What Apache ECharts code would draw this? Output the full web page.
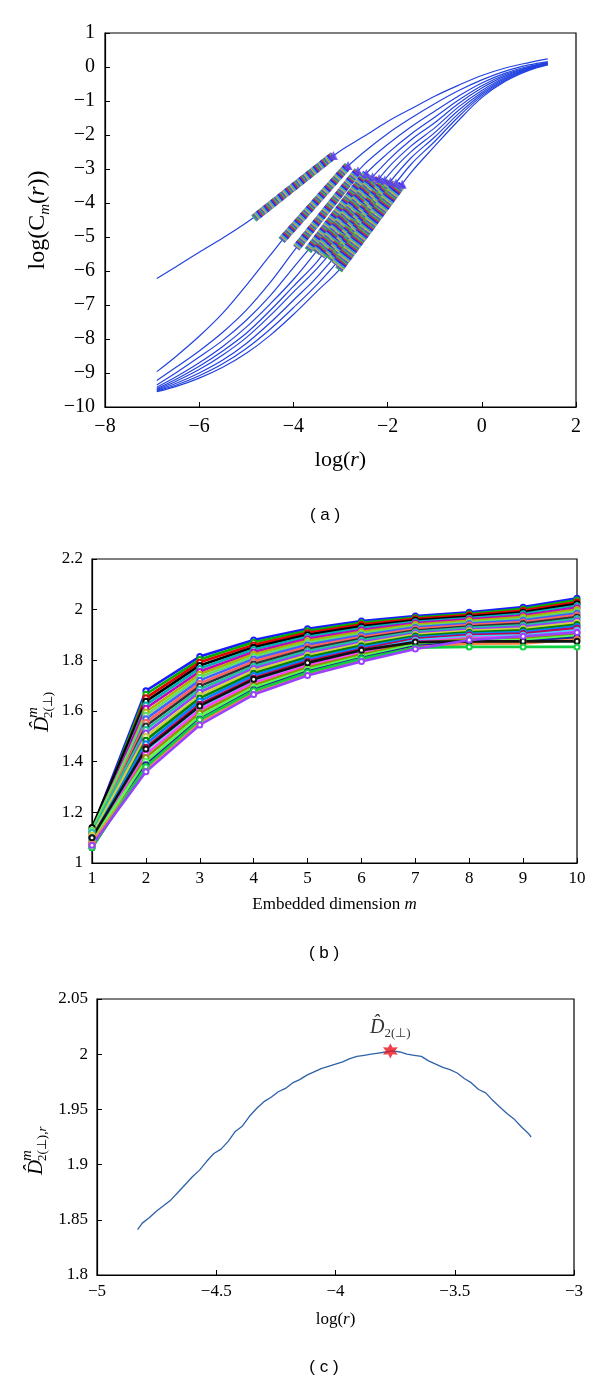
<!DOCTYPE html>
<html><head><meta charset="utf-8">
<script src="https://cdn.jsdelivr.net/npm/echarts@6/dist/echarts.min.js"></script>
<style>html,body{margin:0;padding:0;background:#fff}#c{width:600px;height:1382px}</style>
</head><body><div id="c"></div>
<script>
// ---------- Panel (a): log(C_m(r)) vs log(r), m = 1..10 ----------
const logR = [-6.9,-6.5,-6,-5.5,-5,-4.5,-4,-3.5,-3,-2.5,-2,-1.5,-1,-0.5,0,0.5,1,1.4];
const logC_m1  = [-6.22,-5.88,-5.45,-5.03,-4.58,-4.08,-3.52,-2.98,-2.46,-2.04,-1.60,-1.23,-0.86,-0.54,-0.25,-0.03,0.13,0.24];
const logC_m2  = [-8.96,-8.52,-7.92,-7.24,-6.42,-5.55,-4.69,-3.90,-3.12,-2.50,-1.96,-1.50,-1.08,-0.70,-0.38,-0.12,0.06,0.16];
const logC_m3  = [-9.22,-8.84,-8.35,-7.80,-7.15,-6.35,-5.43,-4.55,-3.67,-2.87,-2.28,-1.76,-1.30,-0.86,-0.47,-0.18,0.02,0.14];
const logC_m4  = [-9.35,-9.00,-8.53,-8.04,-7.45,-6.74,-5.90,-5.06,-4.13,-3.20,-2.54,-1.97,-1.48,-0.98,-0.55,-0.22,0.00,0.12];
const logC_m5  = [-9.42,-9.12,-8.70,-8.22,-7.65,-6.98,-6.25,-5.40,-4.46,-3.53,-2.76,-2.14,-1.64,-1.08,-0.62,-0.26,-0.02,0.11];
const logC_m6  = [-9.46,-9.19,-8.80,-8.35,-7.83,-7.17,-6.45,-5.73,-4.80,-3.86,-2.98,-2.32,-1.79,-1.18,-0.69,-0.30,-0.04,0.10];
const logC_m7  = [-9.49,-9.25,-8.90,-8.47,-7.96,-7.32,-6.62,-5.93,-5.10,-4.15,-3.21,-2.49,-1.93,-1.28,-0.75,-0.33,-0.05,0.09];
const logC_m8  = [-9.51,-9.31,-9.00,-8.62,-8.13,-7.53,-6.86,-6.18,-5.37,-4.42,-3.47,-2.67,-2.06,-1.38,-0.80,-0.36,-0.06,0.08];
const logC_m9  = [-9.53,-9.36,-9.08,-8.73,-8.28,-7.72,-7.08,-6.40,-5.62,-4.67,-3.73,-2.86,-2.19,-1.47,-0.85,-0.39,-0.08,0.07];
const logC_m10 = [-9.55,-9.40,-9.15,-8.83,-8.42,-7.90,-7.28,-6.60,-5.92,-4.96,-4.02,-3.10,-2.33,-1.58,-0.90,-0.42,-0.10,0.06];
// scaling-region (marked) segments of each curve
const bandStartX = [-4.84,-4.25,-3.94,-3.69,-3.53,-3.41,-3.29,-3.20,-3.12,-3.04];
const bandStartY = [-4.45,-5.10,-5.32,-5.40,-5.45,-5.56,-5.60,-5.70,-5.81,-5.97];
const bandEndX   = [-3.15,-2.84,-2.63,-2.45,-2.32,-2.18,-2.06,-1.94,-1.82,-1.69];
const bandEndY   = [-2.60,-2.90,-3.05,-3.13,-3.23,-3.28,-3.32,-3.37,-3.41,-3.45];

// ---------- Panel (b): D2 estimates vs embedded dimension ----------
const mDims = [1,2,3,4,5,6,7,8,9,10];
const d2_01 = [1.13,1.680,1.815,1.880,1.925,1.955,1.975,1.990,2.010,2.045];
const d2_02 = [1.12,1.666,1.803,1.871,1.917,1.948,1.969,1.984,2.003,2.038];
const d2_03 = [1.11,1.652,1.792,1.861,1.909,1.941,1.964,1.979,1.997,2.030];
const d2_04 = [1.14,1.638,1.780,1.852,1.901,1.934,1.958,1.973,1.990,2.023];
const d2_05 = [1.10,1.624,1.768,1.843,1.893,1.927,1.952,1.967,1.984,2.015];
const d2_06 = [1.12,1.611,1.756,1.833,1.885,1.920,1.947,1.962,1.977,2.008];
const d2_07 = [1.09,1.596,1.745,1.824,1.877,1.913,1.941,1.956,1.971,2.001];
const d2_08 = [1.13,1.583,1.733,1.815,1.869,1.906,1.935,1.950,1.964,1.993];
const d2_09 = [1.08,1.569,1.721,1.805,1.861,1.899,1.930,1.945,1.958,1.986];
const d2_10 = [1.11,1.555,1.709,1.796,1.853,1.892,1.924,1.939,1.951,1.979];
const d2_11 = [1.10,1.541,1.698,1.786,1.845,1.885,1.918,1.933,1.945,1.971];
const d2_12 = [1.12,1.527,1.686,1.777,1.837,1.879,1.913,1.928,1.938,1.964];
const d2_13 = [1.09,1.513,1.674,1.768,1.828,1.871,1.907,1.922,1.932,1.956];
const d2_14 = [1.11,1.499,1.662,1.759,1.820,1.865,1.902,1.917,1.925,1.949];
const d2_15 = [1.08,1.485,1.651,1.749,1.812,1.858,1.896,1.911,1.919,1.941];
const d2_16 = [1.10,1.471,1.639,1.740,1.804,1.851,1.890,1.905,1.912,1.934];
const d2_17 = [1.07,1.457,1.627,1.730,1.796,1.844,1.885,1.900,1.906,1.927];
const d2_18 = [1.09,1.444,1.615,1.721,1.788,1.837,1.879,1.894,1.899,1.919];
const d2_19 = [1.08,1.429,1.604,1.712,1.780,1.830,1.873,1.888,1.893,1.912];
const d2_20 = [1.07,1.416,1.592,1.702,1.772,1.823,1.868,1.883,1.886,1.905];
const d2_21 = [1.09,1.402,1.580,1.693,1.764,1.816,1.862,1.877,1.880,1.897];
const d2_22 = [1.06,1.388,1.568,1.684,1.756,1.809,1.856,1.871,1.873,1.890];
const d2_23 = [1.08,1.374,1.557,1.674,1.748,1.802,1.851,1.866,1.867,1.882];
const d2_24 = [1.10,1.450,1.620,1.725,1.790,1.840,1.872,1.875,1.875,1.875];
const d2_25 = [1.06,1.380,1.565,1.680,1.752,1.806,1.850,1.853,1.853,1.853];
const d2_26 = [1.07,1.360,1.545,1.665,1.740,1.795,1.845,1.880,1.895,1.910];

// ---------- Panel (c): D2(r) for one m vs log(r) ----------
const cLogR = [-4.83,-4.81,-4.78,-4.75,-4.72,-4.69,-4.66,-4.63,-4.60,-4.57,-4.54,-4.51,-4.48,-4.45,-4.42,-4.39,-4.36,-4.33,-4.30,-4.27,-4.24,-4.21,-4.18,-4.15,-4.12,-4.09,-4.06,-4.03,-4.00,-3.97,-3.94,-3.91,-3.88,-3.85,-3.82,-3.79,-3.76,-3.73,-3.70,-3.67,-3.64,-3.61,-3.58,-3.55,-3.52,-3.49,-3.46,-3.43,-3.40,-3.37,-3.34,-3.31,-3.28,-3.25,-3.22,-3.19,-3.18];
const cD2 = [1.841,1.847,1.852,1.858,1.863,1.868,1.875,1.882,1.889,1.895,1.903,1.910,1.914,1.921,1.930,1.935,1.944,1.951,1.957,1.961,1.966,1.969,1.974,1.977,1.981,1.984,1.987,1.989,1.991,1.993,1.996,1.998,1.999,2.000,2.001,2.002,2.003,2.002,2.000,1.999,1.998,1.994,1.991,1.988,1.986,1.983,1.978,1.974,1.968,1.965,1.958,1.952,1.946,1.941,1.934,1.928,1.925];
const peakX = [-3.77];
const peakY = [2.003];

// ---------- styling ----------
const FONT = '"Liberation Serif", "Times New Roman", serif';
const SANS = '"Liberation Sans", Arial, sans-serif';
const minus = v => String(+(+v).toFixed(2)).replace('-', '\u2212');

const curvesA = [logC_m1,logC_m2,logC_m3,logC_m4,logC_m5,logC_m6,logC_m7,logC_m8,logC_m9,logC_m10];
const rowsB = [d2_01,d2_02,d2_03,d2_04,d2_05,d2_06,d2_07,d2_08,d2_09,d2_10,d2_11,d2_12,d2_13,d2_14,d2_15,d2_16,d2_17,d2_18,d2_19,d2_20,d2_21,d2_22,d2_23,d2_24,d2_25,d2_26];
const colorsB = ['#1a1aff','#00b000','#e00000','#000000','#00b0b0','#c000c0','#b0b000','#60e060','#4060ff','#ff6060','#303030','#20c0a0','#9040ff','#d0d040','#008000','#0080ff','#c00050','#40d0ff','#ff40ff','#909000','#50ff50','#2020a0','#ff8040','#111111','#10d040','#9a40ff'];
const stripeColors = ['#30c040','#d03030','#2020f0','#30b8c0','#c0c030'];

const series = [];
curvesA.forEach((ys) => {
  series.push({type:'line', xAxisIndex:0, yAxisIndex:0, data: logR.map((x,j)=>[x, ys[j]]),
    smooth:0.35, symbol:'none', silent:true, z:2, lineStyle:{color:'#2343e0', width:1.2}});
});
curvesA.forEach((ys, i) => {
  const seg = [[bandStartX[i], bandStartY[i]], [bandEndX[i], bandEndY[i]]];
  series.push({type:'line', xAxisIndex:0, yAxisIndex:0, data: seg, symbol:'none', silent:true, z:3,
    lineStyle:{color:'#5a50e8', width:8, cap:'butt'}});
  stripeColors.forEach((c, k) => {
    series.push({type:'line', xAxisIndex:0, yAxisIndex:0, data: seg, symbol:'none', silent:true, z:4,
      lineStyle:{color:c, width:8, opacity:0.9, type:[1.5,7.5], dashOffset:k*1.5 + (i%3), cap:'butt'}});
  });
});
series.push({type:'scatter', xAxisIndex:0, yAxisIndex:0, data: bandEndX.map((x,i)=>[x, bandEndY[i]]),
  symbol:'triangle', symbolSize:9, silent:true, z:5, itemStyle:{color:'#5b3cf0'}});

rowsB.forEach((row, i) => {
  series.push({type:'line', xAxisIndex:1, yAxisIndex:1, data: mDims.map((m,j)=>[m, row[j]]),
    symbol:'emptyCircle', symbolSize:5, silent:true,
    lineStyle:{color:colorsB[i], width:2.6}, itemStyle:{color:colorsB[i], borderWidth:1.5}});
});

series.push({type:'line', xAxisIndex:2, yAxisIndex:2, data: cLogR.map((x,j)=>[x, cD2[j]]),
  symbol:'none', silent:true, lineStyle:{color:'#2e62a8', width:1.3}});
series.push({type:'scatter', xAxisIndex:2, yAxisIndex:2, data: peakX.map((x,i)=>[x, peakY[i]]), silent:true, z:5,
  symbol:'path://M0,-10 L2.6,-4.5 L8.66,-5 L5.2,0 L8.66,5 L2.6,4.5 L0,10 L-2.6,4.5 L-8.66,5 L-5.2,0 L-8.66,-5 L-2.6,-4.5 Z',
  symbolSize:15, itemStyle:{color:'#e8141e'},
  label:{show:true, position:'top', distance:3, formatter:'{d|D\u0302}{s|2(\u22a5)}',
    rich:{d:{fontFamily:FONT, fontStyle:'italic', fontSize:20, lineHeight:26, color:'#000'},
          s:{fontFamily:FONT, fontSize:13, lineHeight:13, verticalAlign:'bottom', color:'#000'}}}});

function axisBase(fs, margin){
  return {
    type:'value',
    axisLine:{onZero:false, lineStyle:{color:'#000', width:1.2}},
    axisTick:{inside:true, length:5, lineStyle:{color:'#000', width:1}},
    axisLabel:{formatter:minus, fontFamily:FONT, fontSize:fs, color:'#000', margin:margin},
    splitLine:{show:false}
  };
}

const xA = Object.assign(axisBase(20, 10), {gridIndex:0, min:-8, max:2, interval:2,
  name:'log({i|r})', nameLocation:'middle', nameGap:42,
  nameTextStyle:{fontFamily:FONT, fontSize:22, color:'#000', rich:{i:{fontFamily:FONT, fontStyle:'italic', fontSize:22, color:'#000'}}}});
const yA = Object.assign(axisBase(20, 10), {gridIndex:0, min:-10, max:1, interval:1,
  name:'log(C{s|m}({i|r}))', nameLocation:'middle', nameGap:52, nameRotate:90,
  nameTextStyle:{fontFamily:FONT, fontSize:24, color:'#000', lineHeight:30,
    rich:{s:{fontFamily:FONT, fontStyle:'italic', fontSize:15, lineHeight:14, verticalAlign:'bottom', color:'#000'},
          i:{fontFamily:FONT, fontStyle:'italic', fontSize:24, lineHeight:30, color:'#000'}}}});
const xB = Object.assign(axisBase(17, 7), {gridIndex:1, min:1, max:10, interval:1,
  name:'Embedded dimension {i|m}', nameLocation:'middle', nameGap:33,
  nameTextStyle:{fontFamily:FONT, fontSize:17, color:'#000', rich:{i:{fontFamily:FONT, fontStyle:'italic', fontSize:17, color:'#000'}}}});
const yB = Object.assign(axisBase(17, 9), {gridIndex:1, min:1, max:2.2, interval:0.2});
const xC = Object.assign(axisBase(17, 8), {gridIndex:2, min:-5, max:-3, interval:0.5,
  name:'log({i|r})', nameLocation:'middle', nameGap:36,
  nameTextStyle:{fontFamily:FONT, fontSize:17, color:'#000', rich:{i:{fontFamily:FONT, fontStyle:'italic', fontSize:17, color:'#000'}}}});
const yC = Object.assign(axisBase(17, 9), {gridIndex:2, min:1.8, max:2.05, interval:0.05});

function dTitle(cx, cy, subRich, len){
  return {type:'group', x:cx, y:cy + len/2, rotation:Math.PI/2, silent:true, children:[
    {type:'text', x:0, y:0, style:{text:'D\u0302', fontFamily:FONT, fontStyle:'italic', fontSize:21, fill:'#000', textAlign:'left', textVerticalAlign:'middle'}},
    {type:'text', x:14, y:-9, style:{text:'m', fontFamily:FONT, fontStyle:'italic', fontSize:15, fill:'#000', textAlign:'left', textVerticalAlign:'middle'}},
    {type:'text', x:14, y:7, style:Object.assign({fill:'#000', textAlign:'left', textVerticalAlign:'middle', fontFamily:FONT, fontSize:13}, subRich)}
  ]};
}
function caption(txt, cx, cy){
  return {type:'text', x:cx, y:cy, silent:true, style:{text:txt, fontFamily:SANS, fontSize:17, fill:'#000', textAlign:'center', textVerticalAlign:'middle'}};
}

const gridBase = {show:true, borderColor:'#000', borderWidth:1.2, backgroundColor:'transparent', outerBoundsMode:'none'};
const option = {
  animation:false,
  backgroundColor:'#fff',
  grid:[
    Object.assign({left:105, top:33, width:471, height:374}, gridBase),
    Object.assign({left:92, top:559, width:485, height:304}, gridBase),
    Object.assign({left:97, top:999, width:477, height:276}, gridBase)
  ],
  xAxis:[xA, xB, xC],
  yAxis:[yA, yB, yC],
  series: series,
  graphic:[
    caption('( a )', 325, 515),
    caption('( b )', 324, 953),
    caption('( c )', 324, 1367),
    dTitle(42, 712, {text:'2(\u22a5)'}, 40),
    dTitle(36, 1150, {text:'{a|2(\u22a5),}{b|r}', rich:{a:{fontFamily:FONT, fontSize:13, fill:'#000'}, b:{fontFamily:FONT, fontStyle:'italic', fontSize:13, fill:'#000'}}}, 50)
  ]
};
const chart = echarts.init(document.getElementById('c'));
chart.setOption(option);
</script></body></html>
